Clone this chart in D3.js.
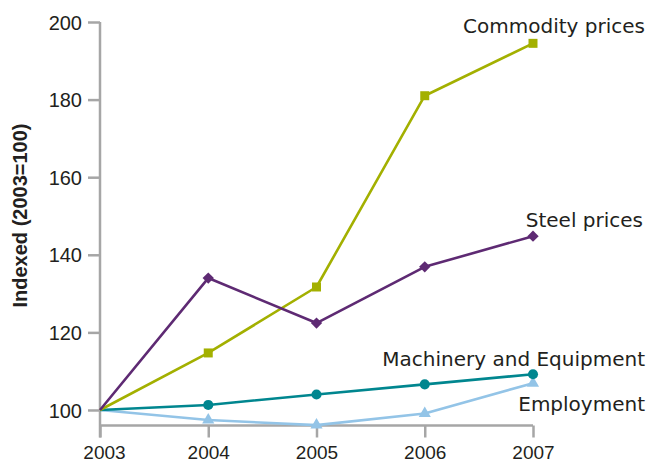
<!DOCTYPE html>
<html>
<head>
<meta charset="utf-8">
<script src="https://cdn.jsdelivr.net/npm/d3@7"></script>
<style>
  html, body { margin: 0; padding: 0; background: #fff; }
  svg { display: block; }
</style>
</head>
<body>
<svg id="chart" width="651" height="463"></svg>
<script>
const years = [2003, 2004, 2005, 2006, 2007];
const commodityPrices = [100, 114.7, 131.7, 181.0, 194.5];
const steelPrices = [100, 134.0, 122.4, 136.9, 144.8];
const machineryEquipment = [100, 101.3, 104.0, 106.6, 109.2];
const employment = [100, 97.4, 96.1, 99.1, 106.9];
const yTicks = [100, 120, 140, 160, 180, 200];
const seriesNames = ["Employment", "Machinery and Equipment", "Commodity prices", "Steel prices"];
const seriesValues = [employment, machineryEquipment, commodityPrices, steelPrices];

const colors = {
  "Commodity prices": "#a3b000",
  "Steel prices": "#5e2a73",
  "Machinery and Equipment": "#00868f",
  "Employment": "#93c4e7"
};
const markers = {
  "Commodity prices": d3.symbolSquare,
  "Steel prices": d3.symbolSquare,
  "Machinery and Equipment": d3.symbolCircle,
  "Employment": d3.symbolTriangle
};
const markerRot = {
  "Commodity prices": 0,
  "Steel prices": 45,
  "Machinery and Equipment": 0,
  "Employment": 0
};
const markerSizes = {
  "Commodity prices": 81,
  "Steel prices": 64,
  "Machinery and Equipment": 80,
  "Employment": 64
};
// label placement (right-aligned), by series
const labelPos = {
  "Commodity prices": {x: 645, y: 32.5},
  "Steel prices": {x: 643, y: 226.5},
  "Machinery and Equipment": {x: 645, y: 365.5},
  "Employment": {x: 645, y: 410.5}
};

const svg = d3.select("#chart");
const x = d3.scaleLinear().domain([2003, 2007]).range([100, 533]);
const y = d3.scaleLinear().domain([96, 200]).range([425.5, 22]);
const axisColor = "#a6a6a6";
const textColor = "#231f20";

// Y axis
const yAxis = svg.append("g").attr("transform", `translate(${x(2003)},0)`)
  .call(d3.axisLeft(y).tickValues(yTicks).tickSize(12).tickSizeOuter(0).tickPadding(6).tickFormat(d3.format("d")));
yAxis.select(".domain").remove();
yAxis.append("line").attr("x1", 0).attr("x2", 0).attr("y1", y(200)).attr("y2", y(96) + 12)
  .attr("stroke", axisColor).attr("stroke-width", 2.5);
yAxis.selectAll(".tick line").attr("stroke", axisColor).attr("stroke-width", 2.5);
yAxis.selectAll(".tick text")
  .attr("fill", textColor).attr("font-family", "'Liberation Sans', Arial, sans-serif")
  .attr("font-size", 20).attr("dy", "0.36em");

// X axis
const xAxis = svg.append("g").attr("transform", `translate(0,${y(96)})`)
  .call(d3.axisBottom(x).tickValues(years).tickSize(12).tickSizeOuter(0).tickPadding(0).tickFormat(d3.format("d")));
xAxis.select(".domain").remove();
xAxis.append("line").attr("x1", x(2003)).attr("x2", x(2007)).attr("y1", 0).attr("y2", 0)
  .attr("stroke", axisColor).attr("stroke-width", 2.5);
xAxis.selectAll(".tick line").attr("stroke", axisColor).attr("stroke-width", 2.5);
xAxis.selectAll(".tick text")
  .attr("fill", textColor).attr("font-family", "'Liberation Sans', Arial, sans-serif")
  .attr("font-size", 19).attr("y", 33).attr("dy", null)
  .attr("dx", d => d === 2003 ? 4 : 0);

// Y axis title
svg.append("text")
  .attr("transform", `translate(27,${(118 + 313) / 2}) rotate(-90)`)
  .attr("text-anchor", "middle")
  .attr("font-family", "'Liberation Sans', Arial, sans-serif")
  .attr("font-weight", "bold").attr("font-size", 20)
  .attr("fill", textColor)
  .text("Indexed (2003=100)");

// Series
const line = d3.line().x((d, i) => x(years[i])).y(d => y(d));
seriesNames.forEach((name, si) => {
  const vals = seriesValues[si];
  const g = svg.append("g");
  g.append("path").datum(vals).attr("d", line)
    .attr("fill", "none").attr("stroke", colors[name]).attr("stroke-width", 2.6)
    .attr("stroke-linejoin", "round");
  g.selectAll("path.m").data(vals).enter().append("path").attr("class", "m")
    .attr("transform", (d, i) => `translate(${x(years[i])},${y(d)}) rotate(${markerRot[name]})`)
    .attr("d", d3.symbol().type(markers[name]).size(markerSizes[name]))
    .attr("fill", colors[name])
    .style("display", (d, i) => i === 0 ? "none" : null);
  svg.append("text")
    .attr("x", labelPos[name].x).attr("y", labelPos[name].y)
    .attr("text-anchor", "end")
    .attr("font-family", "'DejaVu Sans', sans-serif").attr("font-size", 20)
    .attr("fill", textColor)
    .text(name);
});
</script>
</body>
</html>
